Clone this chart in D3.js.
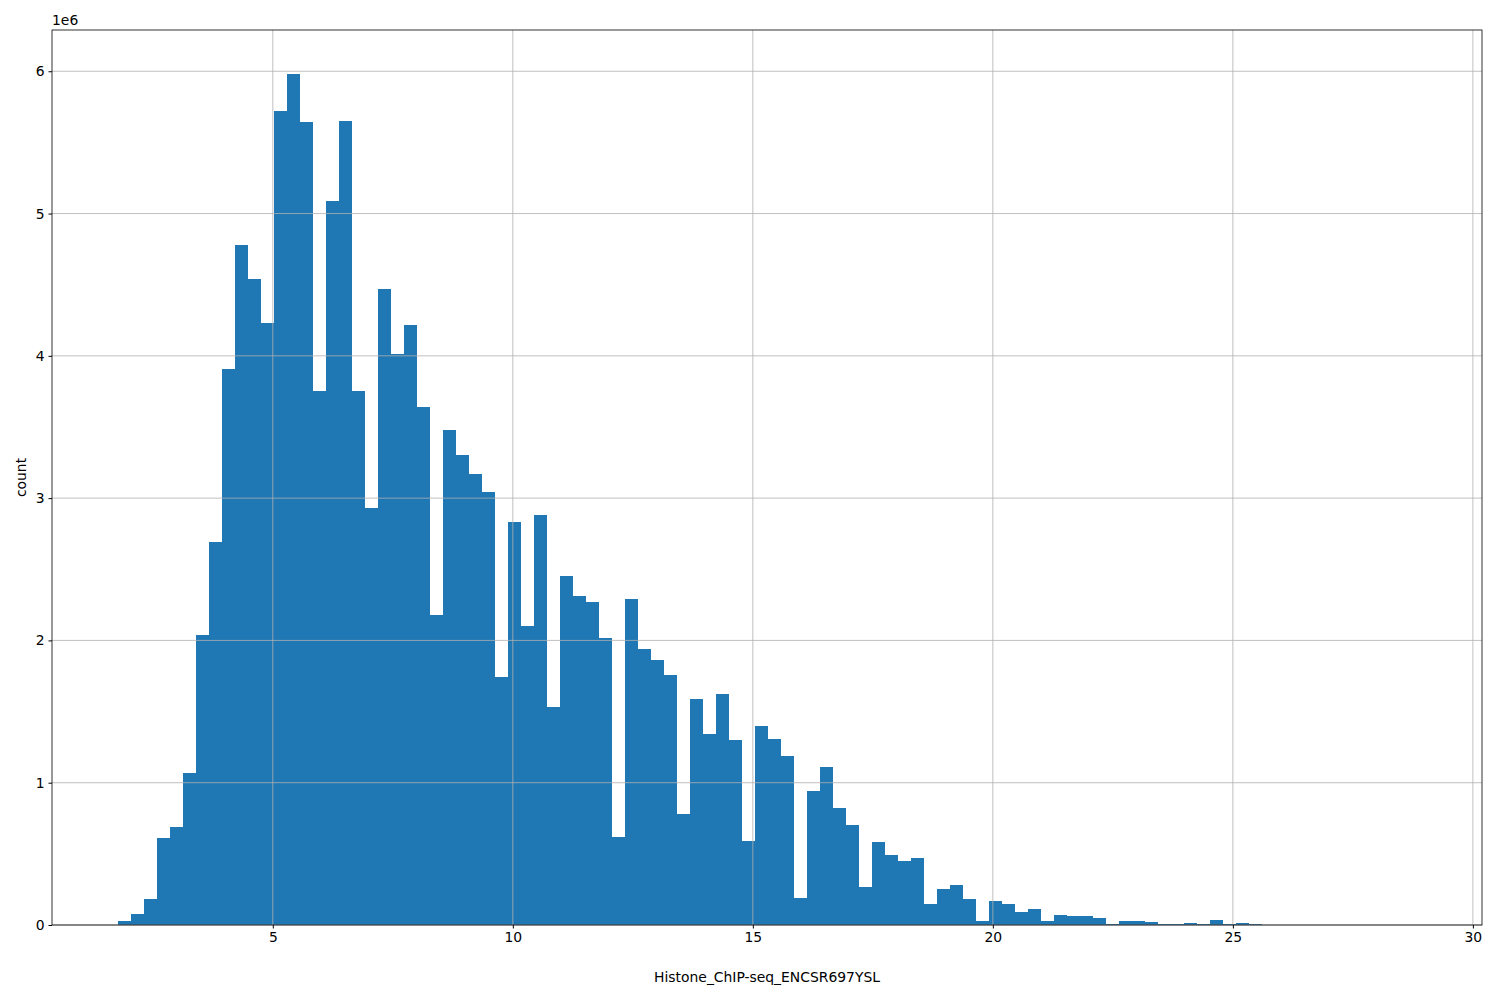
<!DOCTYPE html>
<html>
<head>
<meta charset="utf-8">
<script src="https://cdn.jsdelivr.net/npm/d3@7"></script>
<style>
body { margin: 0; background: #fff; }
text { font-family: "DejaVu Sans", sans-serif; }
</style>
</head>
<body>
<svg id="chart" width="1500" height="1000"></svg>
<script>
// histogram counts in millions, 100 equal bins
const binStart = 1.77;
const binWidth = 0.2708;
const counts = [
    0.03, 0.08, 0.18, 0.61, 0.69, 1.07, 2.04, 2.69, 3.91, 4.78,
    4.54, 4.23, 5.72, 5.98, 5.64, 3.75, 5.09, 5.65, 3.75, 2.93,
    4.47, 4.01, 4.22, 3.64, 2.18, 3.48, 3.30, 3.17, 3.04, 1.74,
    2.83, 2.10, 2.88, 1.53, 2.45, 2.31, 2.27, 2.02, 0.62, 2.29,
    1.94, 1.86, 1.76, 0.78, 1.59, 1.34, 1.62, 1.30, 0.59, 1.40,
    1.31, 1.19, 0.19, 0.94, 1.11, 0.82, 0.70, 0.27, 0.58, 0.49,
    0.45, 0.47, 0.15, 0.25, 0.28, 0.18, 0.03, 0.17, 0.15, 0.09,
    0.11, 0.03, 0.07, 0.065, 0.06, 0.05, 0.01, 0.03, 0.03, 0.02,
    0.01, 0.005, 0.015, 0.005, 0.035, 0.005, 0.015, 0.008, 0.002, 0.002,
    0.001, 0.001, 0.001, 0.001, 0.001, 0.001, 0.001, 0.001, 0.001, 0.001
];
const xTicks = [5, 10, 15, 20, 25, 30];
const yTicks = [0, 1, 2, 3, 4, 5, 6];

const margin = {left: 52, right: 18, top: 30, bottom: 75};
const width = 1500 - margin.left - margin.right;
const height = 1000 - margin.top - margin.bottom;

const svg = d3.select("#chart");
const g = svg.append("g").attr("transform", `translate(${margin.left},${margin.top})`);

const x = d3.scaleLinear().domain([0.4, 30.19]).range([0, width]);
const y = d3.scaleLinear().domain([0, 6.29]).range([height, 0]);

// bars
g.append("g").attr("shape-rendering", "crispEdges")
    .selectAll("rect").data(counts).enter().append("rect")
    .attr("x", (d, i) => x(binStart + i * binWidth))
    .attr("width", x(binStart + binWidth) - x(binStart) + 0.6)
    .attr("y", d => y(d))
    .attr("height", d => height - y(d))
    .attr("fill", "#1f77b4");

// grid (drawn above bars)
g.append("g").selectAll("line").data(xTicks).enter().append("line")
    .attr("x1", d => x(d)).attr("x2", d => x(d))
    .attr("y1", 0).attr("y2", height)
    .attr("stroke", "#b0b0b0").attr("stroke-width", 0.8);
g.append("g").selectAll("line").data(yTicks).enter().append("line")
    .attr("y1", d => y(d)).attr("y2", d => y(d))
    .attr("x1", 0).attr("x2", width)
    .attr("stroke", "#b0b0b0").attr("stroke-width", 0.8);

// axes
const xAxis = g.append("g").attr("transform", `translate(0,${height})`)
    .call(d3.axisBottom(x).tickValues(xTicks).tickSize(3.5).tickPadding(4).tickFormat(d3.format("d")));
const yAxis = g.append("g")
    .call(d3.axisLeft(y).tickValues(yTicks).tickSize(3.5).tickPadding(4).tickFormat(d3.format("d")));
[xAxis, yAxis].forEach(a => {
    a.select(".domain").remove();
    a.selectAll("text").style("font-size", "13.9px").style("font-family", "DejaVu Sans").attr("fill", "#000");
    a.selectAll("line").attr("stroke", "#000");
});

// frame
g.append("rect").attr("width", width).attr("height", height)
    .attr("fill", "none").attr("stroke", "#000").attr("stroke-width", 0.8);

// labels
svg.append("text").attr("x", margin.left).attr("y", margin.top - 5)
    .style("font-size", "13.9px").text("1e6");
svg.append("text").attr("x", margin.left + width / 2).attr("y", 982)
    .attr("text-anchor", "middle").style("font-size", "13.9px")
    .text("Histone_ChIP-seq_ENCSR697YSL");
svg.append("text").attr("transform", `translate(26,${margin.top + height / 2}) rotate(-90)`)
    .attr("text-anchor", "middle").style("font-size", "13.9px").text("count");
</script>
</body>
</html>
